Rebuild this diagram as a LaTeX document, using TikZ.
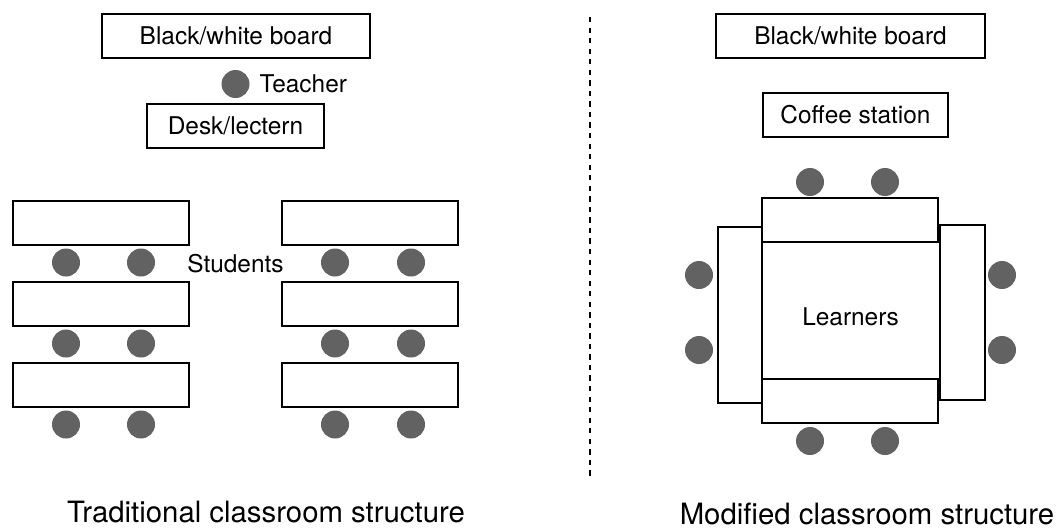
\documentclass[tikz,border=0pt]{standalone}
\usepackage{fontspec}
\setmainfont{TeX Gyre Heros}
\usepackage{xcolor}
\usepackage{tikz}
\usetikzlibrary{positioning,calc}

\definecolor{seatgray}{HTML}{626262}

\tikzset{
  table/.style={draw,line width=1.1pt,inner sep=0pt,minimum height=0.88cm,
    font=\fontsize{13.9}{16}\selectfont},
  seat/.style={circle,fill=seatgray,inner sep=0pt,minimum size=0.56cm},
  lbl/.style={inner sep=0pt,font=\fontsize{13.9}{16}\selectfont},
  caption/.style={inner sep=0pt,anchor=base,font=\fontsize{16.7}{20}\selectfont}
}

\begin{document}
\begin{tikzpicture}
\useasboundingbox (0,0) rectangle (21.2,10.58);

% traditional room: board, teacher and desk up front
\node[table,minimum width=5.36cm] (boardL) at (4.72,9.86) {Black/white board};
\node[seat] (teacher) at (4.71,8.90) {};
\node[lbl,right=0.19cm of teacher] (teacherlbl) {Teacher};
\node[table,minimum width=3.54cm] (lectern) at (4.71,8.06) {Desk/lectern};

% rows of student tables, two seats behind each
\foreach \r/\y in {1/6.12,2/4.50,3/2.88}{
  \node[table,minimum width=3.52cm] (tl\r) at (2.02,\y) {};
  \node[table,minimum width=3.52cm] (tr\r) at (7.40,\y) {};
  \node[seat] (sl\r a) at ($(tl\r)+(-0.70,-0.79)$) {};
  \node[seat] (sl\r b) at ($(tl\r)+(0.80,-0.79)$) {};
  \node[seat] (sr\r a) at ($(tr\r)+(-0.70,-0.79)$) {};
  \node[seat] (sr\r b) at ($(tr\r)+(0.82,-0.79)$) {};
}
\node[lbl] (students) at (4.71,5.31) {Students};

\node[caption] (capL) at (5.32,0.14) {Traditional classroom structure};

% divider
\coordinate (divtop) at (11.80,10.24);
\coordinate (divbot) at (11.80,1.02);
\draw[line width=1.3pt,dash pattern=on 3pt off 3pt] (divtop) -- (divbot);

% modified room: tables pushed into a square
\node[table,minimum width=5.38cm] (boardR) at (17.01,9.86) {Black/white board};
\node[table,minimum width=3.70cm] (coffee) at (17.11,8.28) {Coffee station};

\node[table,minimum width=3.52cm] (ttop) at (17.00,6.18) {};
\node[table,minimum width=3.52cm] (tbot) at (17.00,2.56) {};
\node[table,minimum width=0.88cm,minimum height=3.52cm] (tleft) at (14.80,4.28) {};
\node[table,minimum width=0.90cm,minimum height=3.50cm] (tright) at (19.25,4.33) {};

\node[seat] (st1) at (16.20,6.94) {};
\node[seat] (st2) at (17.70,6.94) {};
\node[seat] (sb1) at (16.20,1.76) {};
\node[seat] (sb2) at (17.70,1.76) {};
\node[seat] (sw1) at (13.98,5.08) {};
\node[seat] (sw2) at (13.98,3.58) {};
\node[seat] (se1) at (20.04,5.08) {};
\node[seat] (se2) at (20.04,3.58) {};

\node[lbl] (learners) at (17.01,4.25) {Learners};

\node[caption] (capR) at (17.34,0.09) {Modified classroom structure};
\end{tikzpicture}
\end{document}
